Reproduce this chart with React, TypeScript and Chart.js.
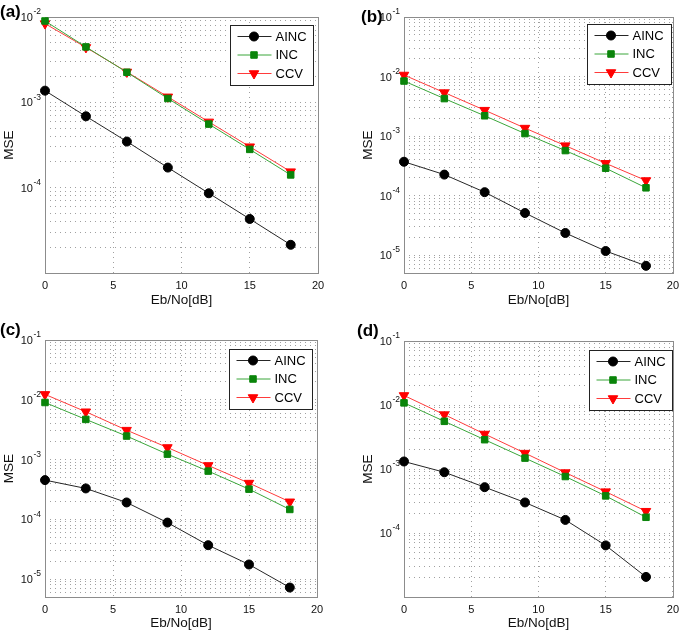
import React, { useEffect, useRef } from 'react';
import { Chart, registerables } from 'chart.js';

Chart.register(...registerables);

// ---------- data ----------
const snrDb = [0, 3, 6, 9, 12, 15, 18];
const xTickValues = [0, 5, 10, 15, 20];
const seriesNames = ['AINC', 'INC', 'CCV'];
const xTitle = 'Eb/No[dB]';
const yTitle = 'MSE';

const aincA = [1.37e-3, 6.86e-4, 3.47e-4, 1.72e-4, 8.6e-5, 4.3e-5, 2.14e-5];
const incA = [8.98e-3, 4.46e-3, 2.25e-3, 1.11e-3, 5.56e-4, 2.81e-4, 1.41e-4];
const ccvA = [8.37e-3, 4.4e-3, 2.27e-3, 1.16e-3, 5.9e-4, 3.02e-4, 1.54e-4];

const aincB = [3.7e-4, 2.25e-4, 1.14e-4, 5.1e-5, 2.35e-5, 1.17e-5, 6.6e-6];
const incB = [8.4e-3, 4.26e-3, 2.19e-3, 1.1e-3, 5.7e-4, 2.88e-4, 1.35e-4];
const ccvB = [1.06e-2, 5.37e-3, 2.72e-3, 1.36e-3, 6.9e-4, 3.48e-4, 1.79e-4];

const aincC = [4.52e-4, 3.28e-4, 1.91e-4, 8.8e-5, 3.68e-5, 1.75e-5, 7.2e-6];
const incC = [9.0e-3, 4.69e-3, 2.47e-3, 1.23e-3, 6.4e-4, 3.19e-4, 1.46e-4];
const ccvC = [1.23e-2, 6.3e-3, 3.1e-3, 1.59e-3, 7.96e-4, 4.03e-4, 1.96e-4];

const aincD = [1.31e-3, 8.9e-4, 5.2e-4, 3.0e-4, 1.6e-4, 6.4e-5, 2.06e-5];
const incD = [1.08e-2, 5.56e-3, 2.87e-3, 1.48e-3, 7.63e-4, 3.8e-4, 1.76e-4];
const ccvD = [1.41e-2, 7.08e-3, 3.52e-3, 1.77e-3, 8.8e-4, 4.43e-4, 2.19e-4];

const yRangeA = [1e-5, 1e-2];
const yRangeB = [5e-6, 1e-1];
const yRangeC = [5e-6, 1e-1];
const yRangeD = [1e-5, 1e-1];

const panelLabels = ['(a)', '(b)', '(c)', '(d)'];

// ---------- styles ----------
const FONT = "'Liberation Sans', Arial, Helvetica, sans-serif";
const seriesStyles = [
  { line: '#262626', fill: '#000000', style: 'circle', radius: 4.5, rotation: 0 },
  { line: '#3aa63a', fill: '#0a840a', style: 'rect', radius: 4.6, rotation: 0 },
  { line: '#ff3b3b', fill: '#ff0000', style: 'triangle', radius: 5.5, rotation: 180 },
];

type Panel = {
  label: string;
  left: number; top: number; width: number; height: number;
  pad: { left: number; right: number; top: number; bottom: number };
  xHeight: number;
  yRange: number[];
  hideExp: number[];
  legendRight: number; legendTop: number; legendWidth: number;
  labelX: number; labelY: number;
  series: number[][];
};

const panels: Panel[] = [
  {
    label: panelLabels[0], left: 0, top: 0, width: 340, height: 310,
    pad: { left: 0, right: 22, top: 17, bottom: 2 }, xHeight: 35,
    yRange: yRangeA, hideExp: [-5],
    legendRight: 5.5, legendTop: 8, legendWidth: 83,
    labelX: 0, labelY: 12, series: [aincA, incA, ccvA],
  },
  {
    label: panelLabels[1], left: 340, top: 0, width: 345, height: 310,
    pad: { left: 19, right: 12, top: 17, bottom: 2 }, xHeight: 35,
    yRange: yRangeB, hideExp: [],
    legendRight: 1.5, legendTop: 6.5, legendWidth: 84,
    labelX: 21, labelY: 17.5, series: [aincB, incB, ccvB],
  },
  {
    label: panelLabels[2], left: 0, top: 310, width: 340, height: 322,
    pad: { left: 0, right: 23, top: 30, bottom: 1 }, xHeight: 34,
    yRange: yRangeC, hideExp: [],
    legendRight: 5.5, legendTop: 8.5, legendWidth: 83,
    labelX: 0, labelY: 20.5, series: [aincC, incC, ccvC],
  },
  {
    label: panelLabels[3], left: 340, top: 310, width: 345, height: 322,
    pad: { left: 19, right: 12, top: 31, bottom: 1 }, xHeight: 34,
    yRange: yRangeD, hideExp: [-5],
    legendRight: 0.5, legendTop: 8.5, legendWidth: 83,
    labelX: 17, labelY: 21.5, series: [aincD, incD, ccvD],
  },
];

function drawMarker(ctx: CanvasRenderingContext2D, style: string, x: number, y: number, r: number, color: string) {
  ctx.fillStyle = color;
  ctx.strokeStyle = color;
  ctx.lineWidth = 1;
  ctx.beginPath();
  if (style === 'circle') {
    ctx.arc(x, y, r, 0, Math.PI * 2);
  } else if (style === 'rect') {
    const s = Math.SQRT1_2 * r;
    ctx.rect(x - s, y - s, 2 * s, 2 * s);
  } else {
    for (let k = 0; k < 3; k++) {
      const a = Math.PI + (k * 2 * Math.PI) / 3;
      const px = x + Math.sin(a) * r;
      const py = y - Math.cos(a) * r;
      if (k === 0) ctx.moveTo(px, py); else ctx.lineTo(px, py);
    }
    ctx.closePath();
  }
  ctx.fill();
  ctx.stroke();
}

function makePlugin(panel: Panel) {
  return {
    id: 'panelDecor' + panel.label,
    beforeDatasetsDraw(chart: any) {
      const { ctx, chartArea: ca } = chart;
      ctx.save();
      ctx.strokeStyle = '#8c8c8c';
      ctx.lineWidth = 1;
      const l = Math.round(ca.left) + 0.5;
      const t = Math.round(ca.top) + 0.5;
      const r = Math.round(ca.right) + 0.5;
      const b = Math.round(ca.bottom) + 0.5;
      ctx.strokeRect(l, t, r - l, b - t);
      ctx.restore();
    },
    afterDraw(chart: any) {
      const { ctx, chartArea: ca } = chart;
      const yScale = chart.scales.y;
      ctx.save();
      ctx.fillStyle = '#111';
      for (const t of yScale.ticks) {
        const e = Math.log10(t.value);
        const en = Math.round(e);
        if (Math.abs(e - en) > 1e-6) continue;
        if (panel.hideExp.includes(en)) continue;
        const py = yScale.getPixelForValue(t.value);
        const expText = String(en);
        ctx.font = `8.5px ${FONT}`;
        const ew = ctx.measureText(expText).width;
        const ex = ca.left - 4 - ew;
        ctx.textAlign = 'left';
        ctx.textBaseline = 'middle';
        ctx.fillText(expText, ex, py - 5);
        ctx.font = `11px ${FONT}`;
        ctx.textAlign = 'right';
        ctx.fillText('10', ex - 0.5, py + 1);
      }
      ctx.font = `bold 17px ${FONT}`;
      ctx.textAlign = 'left';
      ctx.textBaseline = 'middle';
      ctx.fillStyle = '#000';
      ctx.fillText(panel.label, panel.labelX, panel.labelY);
      const bw = panel.legendWidth;
      const bh = 60;
      const bx = Math.round(ca.right - panel.legendRight - bw) + 0.5;
      const by = Math.round(ca.top + panel.legendTop) + 0.5;
      ctx.fillStyle = '#fff';
      ctx.fillRect(bx, by, bw, bh);
      ctx.strokeStyle = '#222';
      ctx.lineWidth = 1;
      ctx.strokeRect(bx, by, bw, bh);
      chart.data.datasets.forEach((ds: any, i: number) => {
        const st = seriesStyles[i];
        const iy = by + 11 + i * 18.5;
        ctx.strokeStyle = ds.borderColor;
        ctx.lineWidth = 1;
        ctx.beginPath();
        ctx.moveTo(bx + 7, iy);
        ctx.lineTo(bx + 41, iy);
        ctx.stroke();
        drawMarker(ctx, st.style, bx + 23.5, iy, st.radius, ds.pointBackgroundColor);
        ctx.fillStyle = '#000';
        ctx.font = `13px ${FONT}`;
        ctx.textAlign = 'left';
        ctx.textBaseline = 'middle';
        ctx.fillText(ds.label, bx + 45, iy + 0.5);
      });
      ctx.restore();
    },
  };
}

function buildLogTicks(min: number, max: number) {
  const ticks: { value: number; major: boolean }[] = [];
  const lo = Math.floor(Math.log10(min));
  const hi = Math.ceil(Math.log10(max));
  for (let e = lo; e <= hi; e++) {
    for (let m = 1; m <= 9; m++) {
      const v = m * Math.pow(10, e);
      if (v >= min * 0.999 && v <= max * 1.001) ticks.push({ value: v, major: m === 1 });
    }
  }
  return ticks;
}

function PanelChart({ panel }: { panel: Panel }) {
  const ref = useRef<HTMLCanvasElement>(null);
  useEffect(() => {
    if (!ref.current) return;
    const datasets = panel.series.map((vals, i) => {
      const st = seriesStyles[i];
      return {
        label: seriesNames[i],
        data: snrDb.map((x, k) => ({ x, y: vals[k] })),
        borderColor: st.line,
        backgroundColor: st.fill,
        borderWidth: 1,
        pointStyle: st.style,
        pointRadius: st.radius,
        pointRotation: st.rotation,
        pointBackgroundColor: st.fill,
        pointBorderColor: st.fill,
        pointBorderWidth: 1,
        tension: 0,
        fill: false,
        clip: false,
      };
    });
    const chart = new Chart(ref.current, {
      type: 'line',
      data: { datasets } as any,
      options: {
        animation: false,
        responsive: false,
        maintainAspectRatio: false,
        events: [],
        layout: { padding: panel.pad },
        plugins: { legend: { display: false }, tooltip: { enabled: false }, title: { display: false } },
        scales: {
          x: {
            type: 'linear',
            min: 0,
            max: 20,
            afterBuildTicks: (scale: any) => {
              scale.ticks = xTickValues.map((v) => ({ value: v }));
            },
            afterFit: (scale: any) => {
              scale.height = panel.xHeight;
            },
            ticks: {
              font: { family: FONT, size: 11 },
              color: '#111',
              padding: 6,
              maxRotation: 0,
              autoSkip: false,
            },
            grid: { color: '#a0a0a0', lineWidth: 1, drawTicks: false },
            border: { display: false, dash: [1, 4] },
            title: {
              display: true,
              text: xTitle,
              font: { family: FONT, size: 13.5 },
              color: '#111',
              padding: { top: 0, bottom: 0 },
            },
          },
          y: {
            type: 'logarithmic',
            min: panel.yRange[0],
            max: panel.yRange[1],
            afterBuildTicks: (scale: any) => {
              scale.ticks = buildLogTicks(panel.yRange[0], panel.yRange[1]);
            },
            afterFit: (scale: any) => {
              scale.width = 45;
            },
            ticks: { display: false },
            grid: { color: '#a0a0a0', lineWidth: 1, drawTicks: false },
            border: { display: false, dash: [1, 4] },
            title: {
              display: true,
              text: yTitle,
              font: { family: FONT, size: 13.5 },
              color: '#111',
              padding: { top: 1, bottom: 0 },
            },
          },
        },
      } as any,
      plugins: [makePlugin(panel)],
    });
    return () => chart.destroy();
  }, [panel]);
  return (
    <canvas
      ref={ref}
      width={panel.width}
      height={panel.height}
      style={{ position: 'absolute', left: panel.left, top: panel.top, width: panel.width, height: panel.height }}
    />
  );
}

export default function App() {
  return (
    <div style={{ position: 'absolute', left: 0, top: 0, width: 685, height: 632, background: '#fff', overflow: 'hidden' }}>
      {panels.map((p) => (
        <PanelChart key={p.label} panel={p} />
      ))}
    </div>
  );
}
